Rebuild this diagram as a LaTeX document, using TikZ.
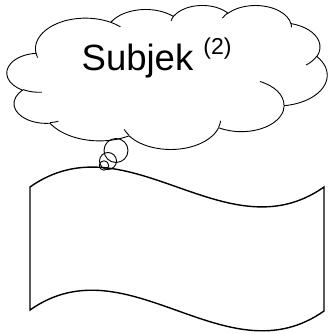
\documentclass[tikz,border=0pt]{standalone}
\usepackage{fontspec}
\setmainfont{Liberation Sans}
\begin{document}
\begin{tikzpicture}[x=1pt,y=-1pt,
  cloudline/.style={line width=0.9pt, line join=round},
  flagline/.style={line width=1.4pt, line join=miter},
  oarc/.style n args={4}{insert path={arc[x radius=#1, y radius=#2,
     start angle={atan2(#1*sin(#3),#2*cos(#3))},
     end angle={atan2(#1*sin(#3),#2*cos(#3))+mod(atan2(#1*sin(#3+#4),#2*cos(#3+#4))-atan2(#1*sin(#3),#2*cos(#3))+720,360)}]}}]
\useasboundingbox[fill=white] (0,0) rectangle (328,334);
% flag
\draw[flagline] (30,187) .. controls (128,118) and (226,256) .. (324,187)
  -- (324,311) .. controls (226,380) and (128,241) .. (30,310) -- cycle;
% cloud
\begin{scope}[shift={(7,5)}, x=0.741pt, y=-0.3333pt]
\draw[cloudline, fill=white] (39,143.7)
  [oarc={67.53}{91.9}{-190.4875}{123.7805}]
  [oarc={53.33}{72.67}{-144.1024}{89.9452}]
  [oarc={43.65}{59.45}{-145.8079}{99.7230}]
  [oarc={48.57}{65.95}{-130.9861}{117.2417}]
  [oarc={53.33}{72.73}{-78.7089}{109.0269}]
  [oarc={67.75}{92.2}{-46.2673}{130.269}]
  [oarc={57.85}{78.67}{0.625}{114.0333}]
  [oarc={67.52}{92.15}{22.4516}{115.1726}]
  [oarc={77.2}{105.43}{66.2426}{75.7110}]
  [oarc={43.6}{59.18}{-274.9421}{146.7356}]
  [oarc={43.45}{59.45}{-246.8285}{152.5189}] -- cycle;
\draw[cloudline]
  (46.93,261.77) [oarc={43.45}{59.45}{86.742}{26.4295}]
  (69.28,348.99) [oarc={43.6}{59.18}{73.6105}{11.4475}]
  (164.78,390.90) [oarc={67.52}{92.15}{137.6242}{14.0811}]
  (288.27,347.51) [oarc={67.52}{92.15}{6.4533}{15.9984}]
  (341.29,229.54) [oarc={57.85}{78.67}{-70.2924}{70.9174}]
  (417.98,153.54) [oarc={53.33}{72.73}{30.318}{27.7515}]
  (383.24,54.26) [oarc={48.57}{65.95}{-13.744}{14.8589}]
  (290.78,39.52) [oarc={48.57}{65.95}{-149.1815}{18.1954}]
  (221.41,47.20) [oarc={43.65}{59.45}{-163.4943}{17.6864}]
  (140.00,51.92) [oarc={67.53}{91.9}{-66.7070}{12.3194}]
  (41.27,157.89) [oarc={67.53}{91.9}{157.6544}{11.8582}];
\end{scope}
% thought bubbles
\draw[cloudline] (116,150.5) circle[radius=12];
\draw[cloudline] (108,161) circle[radius=8.5];
\draw[cloudline] (104,165.5) circle[radius=4.7];
% text
\node[anchor=base west, inner sep=0pt] (label) at (81.5,70.5)
  {\fontsize{36.5}{36.5}\selectfont Subjek \raisebox{16pt}{\fontsize{23}{23}\selectfont (2)}};
\end{tikzpicture}
\end{document}
